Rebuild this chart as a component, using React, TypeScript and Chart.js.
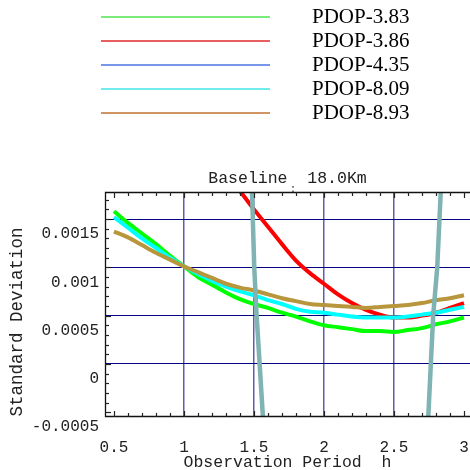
import { useEffect, useRef } from "react";
import { Chart, registerables } from "chart.js";

Chart.register(...registerables);

// ---------- data ----------
const seriesNames = ["PDOP-3.83", "PDOP-3.86", "PDOP-4.35", "PDOP-8.09", "PDOP-8.93"];
const legendColors = ["#4fe44f", "#e22a2a", "#4a74e0", "#40e6e6", "#c0722f"];
const plotColors = ["#00ff00", "#ff0000", "#80b3b3", "#00ffff", "#b8963c"];

const periods = [
  0.5, 0.6, 0.7, 0.8, 0.9, 1.0, 1.1, 1.2, 1.3, 1.4, 1.5, 1.6, 1.7, 1.8, 1.9,
  2.0, 2.1, 2.2, 2.3, 2.4, 2.5, 2.6, 2.7, 2.8, 2.9, 3.0,
];

const pdop383 = [
  0.00158, 0.00146, 0.00135, 0.00124, 0.00112, 0.00101, 0.0009, 0.00082, 0.00074,
  0.00067, 0.00062, 0.00058, 0.00053, 0.00049, 0.00044, 0.0004, 0.00038, 0.00036,
  0.00034, 0.00034, 0.00033, 0.00035, 0.00037, 0.00041, 0.00044, 0.00048,
];

const pdop386 = [
  null, null, null, null, null, null, null, 0.00215, 0.00197, 0.00179, 0.0016,
  0.00142, 0.00124, 0.00107, 0.00094, 0.00083, 0.00072, 0.00063, 0.00056, 0.00051,
  0.00048, 0.00048, 0.0005, 0.00053, 0.00058, 0.00063,
];

const pdop435Periods = [1.47, 1.486, 1.502, 1.519, 1.564, 1.6, 2.71, 2.745, 2.78, 2.809, 2.834, 2.85];
const pdop435 = [0.0026, 0.00178, 0.001, 0.0005, -0.00055, -0.0013, -0.0013, -0.00055, 0.0005, 0.001, 0.00178, 0.0023];

const pdop809 = [
  0.00152, 0.00141, 0.0013, 0.0012, 0.0011, 0.00101, 0.00093, 0.00086, 0.0008,
  0.00075, 0.00071, 0.00066, 0.00062, 0.00057, 0.00054, 0.00053, 0.00051, 0.00049,
  0.00048, 0.00048, 0.00048, 0.00049, 0.00051, 0.00053, 0.00056, 0.00059,
];

const pdop893 = [
  0.00137, 0.00131, 0.00123, 0.00115, 0.00108, 0.00101, 0.00095, 0.00089, 0.00083,
  0.00079, 0.00076, 0.00072, 0.00068, 0.00065, 0.00062, 0.00061, 0.0006, 0.00059,
  0.00058, 0.00059, 0.0006, 0.00061, 0.00063, 0.00066, 0.00068, 0.00071,
];

const xTicks = [0.5, 1, 1.5, 2, 2.5, 3];
const xTickLabels = ["0.5", "1", "1.5", "2", "2.5", "3"];
const yTicks = [-0.0005, 0, 0.0005, 0.001, 0.0015];
const yTickLabels = ["-0.0005", "0", "0.0005", "0.001", "0.0015"];
const xGridValues = [1, 1.5, 2, 2.5];
const yGridValues = [0, 0.0005, 0.001, 0.0015];
const xMinorStep = 0.1;
const yMinorStep = 0.0001;

const chartTitle = "Baseline  18.0Km";
const xTitle = "Observation Period  h";
const yTitle = "Standard Deviation";
const titleMark = ":";

const MONO = "'Liberation Mono', 'DejaVu Sans Mono', monospace";
const SERIF = "'Liberation Serif', 'DejaVu Serif', serif";

const decorPlugin = {
  id: "decor",
  afterDraw(chart: any) {
    const ctx: CanvasRenderingContext2D = chart.ctx;
    const a = chart.chartArea;
    const xs = chart.scales.x;
    const ys = chart.scales.y;
    const left = a.left;
    const right = a.right;
    const top = a.top;
    const bottom = a.bottom;

    ctx.save();

    // frame (left, top, bottom)
    ctx.strokeStyle = "#111111";
    ctx.lineWidth = 1.3;
    ctx.beginPath();
    ctx.moveTo(right, top + 0.5);
    ctx.lineTo(left + 0.5, top + 0.5);
    ctx.lineTo(left + 0.5, bottom - 0.5);
    ctx.lineTo(right, bottom - 0.5);
    ctx.stroke();

    // inward ticks on bottom and top
    ctx.strokeStyle = "#222222";
    ctx.lineWidth = 1.2;
    for (let k = 4; k <= 31; k++) {
      const v = k * xMinorStep;
      if (v < xs.min || v > xs.max) continue;
      const px = Math.round(xs.getPixelForValue(v)) + 0.5;
      const len = k % 5 === 0 ? 6 : 4;
      ctx.beginPath();
      ctx.moveTo(px, bottom);
      ctx.lineTo(px, bottom - len);
      ctx.stroke();
      ctx.beginPath();
      ctx.moveTo(px, top);
      ctx.lineTo(px, top + len);
      ctx.stroke();
    }
    // inward ticks on left
    for (let k = -6; k <= 18; k++) {
      const v = k * yMinorStep;
      if (v < ys.min || v > ys.max) continue;
      const py = Math.round(ys.getPixelForValue(v)) + 0.5;
      const len = k % 5 === 0 ? 6 : 4;
      ctx.beginPath();
      ctx.moveTo(left, py);
      ctx.lineTo(left + len, py);
      ctx.stroke();
    }

    // legend
    const rowY0 = 17;
    const rowGap = 24;
    ctx.font = `21px ${SERIF}`;
    ctx.textAlign = "left";
    ctx.textBaseline = "alphabetic";
    seriesNames.forEach((name, i) => {
      const y = rowY0 + i * rowGap;
      ctx.strokeStyle = legendColors[i];
      ctx.lineWidth = 1.5;
      ctx.beginPath();
      ctx.moveTo(101, y);
      ctx.lineTo(270, y);
      ctx.stroke();
      ctx.fillStyle = "#000";
      ctx.fillText(name, 312, y + 6);
    });

    // small mark under the title
    ctx.font = `10px ${MONO}`;
    ctx.fillStyle = "#222";
    ctx.textAlign = "center";
    ctx.textBaseline = "middle";
    ctx.fillText(titleMark, 293, 189);

    // y-axis title
    ctx.translate(17, 322);
    ctx.rotate(-Math.PI / 2);
    ctx.font = `17.5px ${MONO}`;
    ctx.fillStyle = "#222";
    ctx.textAlign = "center";
    ctx.textBaseline = "middle";
    ctx.fillText(yTitle, 0, 0);

    ctx.restore();
  },
};

export default function App() {
  const canvasRef = useRef<HTMLCanvasElement | null>(null);

  useEffect(() => {
    if (!canvasRef.current) return;
    const toXY = (xsArr: number[], vals: (number | null)[]) =>
      xsArr.map((x, i) => ({ x, y: vals[i] }));

    const seriesData = [
      toXY(periods, pdop383),
      toXY(periods, pdop386),
      toXY(pdop435Periods, pdop435),
      toXY(periods, pdop809),
      toXY(periods, pdop893),
    ];
    const drawOrder = [5, 4, 1, 3, 2];

    const chart = new Chart(canvasRef.current, {
      type: "line",
      data: {
        datasets: seriesNames.map((name, i) => ({
          label: name,
          data: seriesData[i] as any,
          borderColor: plotColors[i],
          backgroundColor: plotColors[i],
          borderWidth: i === 2 ? 4.5 : 4,
          pointRadius: 0,
          fill: false,
          order: drawOrder[i],
          cubicInterpolationMode: i === 2 ? "default" : "monotone",
          tension: 0,
          spanGaps: false,
        })),
      },
      plugins: [decorPlugin],
      options: {
        animation: false,
        responsive: false,
        devicePixelRatio: 1,
        layout: { padding: { top: 169.1, left: 0, right: 0, bottom: 0 } },
        plugins: {
          legend: { display: false },
          tooltip: { enabled: false },
          title: {
            display: true,
            text: chartTitle,
            fullSize: false,
            color: "#222",
            font: { family: MONO, size: 16.5, weight: "normal" },
            padding: { top: 0, bottom: 3.1 },
          },
        },
        scales: {
          x: {
            type: "linear",
            min: 0.436,
            max: 3.043,
            afterBuildTicks: (s: any) => {
              s.ticks = xTicks.map((v) => ({ value: v }));
            },
            afterFit: (s: any) => {
              s.height = 53;
              s.paddingLeft = 0;
              s.paddingRight = 0;
            },
            ticks: {
              autoSkip: false,
              maxRotation: 0,
              padding: 21,
              color: "#222",
              font: { family: MONO, size: 16 },
              callback: (v: any) => xTickLabels[xTicks.indexOf(Number(v))] ?? "",
            },
            grid: {
              drawTicks: false,
              color: (c: any) =>
                c.tick && xGridValues.includes(c.tick.value) ? "rgba(40,40,150,0.75)" : "rgba(0,0,0,0)",
              lineWidth: 1.5,
            },
            border: { display: false },
            title: {
              display: true,
              text: xTitle,
              color: "#222",
              font: { family: MONO, size: 16.5 },
              padding: { top: 0, bottom: -3 },
            },
          },
          y: {
            type: "linear",
            min: -0.00055,
            max: 0.00178,
            afterBuildTicks: (s: any) => {
              s.ticks = yTicks.map((v) => ({ value: v }));
            },
            afterFit: (s: any) => {
              s.width = 105;
              s.paddingTop = 0;
              s.paddingBottom = 0;
            },
            ticks: {
              padding: 6,
              labelOffset: 15,
              color: "#222",
              font: { family: MONO, size: 16 },
              callback: (v: any) => yTickLabels[yTicks.indexOf(Number(v))] ?? "",
            },
            grid: {
              drawTicks: false,
              color: (c: any) =>
                c.tick && yGridValues.includes(c.tick.value) ? "#000080" : "rgba(0,0,0,0)",
              lineWidth: 1,
            },
            border: { display: false },
            title: { display: false },
          },
        },
      },
    });
    return () => chart.destroy();
  }, []);

  return (
    <div
      style={{
        position: "absolute",
        left: 0,
        top: 0,
        width: 470,
        height: 470,
        overflow: "hidden",
        background: "#fff",
      }}
    >
      <canvas ref={canvasRef} width={470} height={470} style={{ display: "block" }} />
    </div>
  );
}
